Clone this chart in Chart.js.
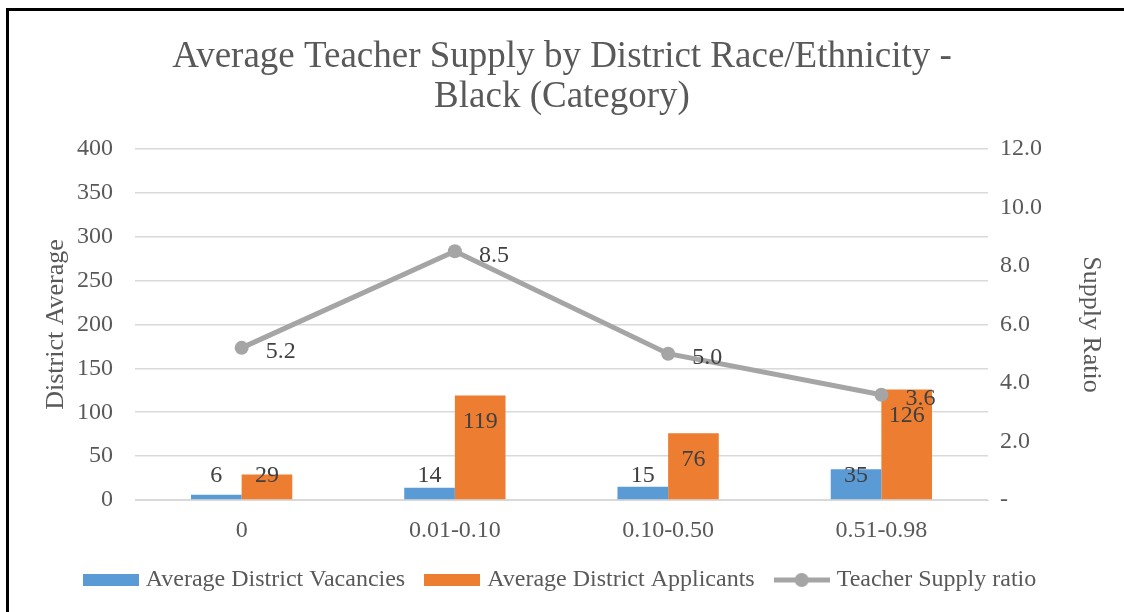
<!DOCTYPE html>
<html>
<head>
<meta charset="utf-8">
<title>Average Teacher Supply by District Race/Ethnicity - Black (Category)</title>
<script src="https://cdn.jsdelivr.net/npm/chart.js@4.4.1/dist/chart.umd.min.js"></script>
<style>
  html, body { margin: 0; padding: 0; background: #fff; overflow: hidden; }
  #wrap { position: relative; width: 1124px; height: 612px; }
  #frame { position: absolute; left: 6px; top: 8px; width: 1200px; height: 700px;
           border-left: 3px solid #000; border-top: 3px solid #000; }
  #chart { position: absolute; left: 0; top: 0; }
</style>
</head>
<body>
<div id="wrap">
  <div id="frame"></div>
  <canvas id="chart" width="1124" height="612"></canvas>
</div>
<script>
// values
const categories = ['0', '0.01-0.10', '0.10-0.50', '0.51-0.98'];
const vacancies = [6, 14, 15, 35];
const applicants = [29, 119, 76, 126];
const supplyRatio = [5.2, 8.5, 5.0, 3.6];

const FONT = '"Liberation Serif", "Times New Roman", serif';
const TEXT = '#595959';

// little pictures for the legend (bar box / line with marker)
function swatch(color, kind){
    const c = document.createElement('canvas');
    c.width = 56;
    c.height = 16;
    const g = c.getContext('2d');
    g.fillStyle = color;
    if(kind === 'bar'){
        g.fillRect(0, 2, 56, 12);
    }else{
        g.fillRect(0, 5.5, 56, 5);
        g.beginPath();
        g.arc(28, 8, 7, 0, Math.PI * 2);
        g.fill();
    }
    return c;
}

const valueLabels = {
    id: 'valueLabels',
    afterDatasetsDraw(chart){
        const ctx = chart.ctx;
        ctx.save();
        ctx.font = '24px ' + FONT;
        ctx.fillStyle = '#404040';
        ctx.textBaseline = 'middle';
        chart.data.datasets.forEach((ds, i) => {
            const meta = chart.getDatasetMeta(i);
            meta.data.forEach((el, j) => {
                const v = ds.data[j];
                if(ds.type === 'line'){
                    ctx.textAlign = 'left';
                    ctx.fillText(v.toFixed(1), el.x + 24, el.y + 4);
                }else{
                    ctx.textAlign = 'center';
                    const y = Math.min(el.y + 26, el.base - 24);
                    ctx.fillText(String(v), el.x, y);
                }
            });
        });
        ctx.restore();
    }
};

new Chart(document.getElementById('chart'), {
    data: {
        labels: categories,
        datasets: [
            {
                type: 'bar',
                label: 'Average District Vacancies',
                data: vacancies,
                backgroundColor: '#5B9BD5',
                yAxisID: 'y',
                order: 2
            },
            {
                type: 'bar',
                label: 'Average District Applicants',
                data: applicants,
                backgroundColor: '#ED7D31',
                yAxisID: 'y',
                order: 2
            },
            {
                type: 'line',
                label: 'Teacher Supply ratio',
                data: supplyRatio,
                borderColor: '#A5A5A5',
                backgroundColor: '#A5A5A5',
                borderWidth: 5,
                pointRadius: 7,
                pointBackgroundColor: '#A5A5A5',
                pointBorderWidth: 0,
                tension: 0,
                yAxisID: 'y1',
                order: 1
            }
        ]
    },
    options: {
        responsive: false,
        animation: false,
        devicePixelRatio: 1,
        layout: { padding: { left: 0, right: 0, top: 0, bottom: 10 } },
        datasets: {
            bar: { barPercentage: 1.0, categoryPercentage: 0.475 }
        },
        plugins: {
            title: {
                display: true,
                text: ['Average Teacher Supply by District Race/Ethnicity -', 'Black (Category)'],
                color: TEXT,
                font: { family: FONT, size: 37, weight: 'normal', lineHeight: 1.08 },
                padding: { top: 37, bottom: 32 }
            },
            legend: {
                position: 'bottom',
                labels: {
                    usePointStyle: true,
                    pointStyleWidth: 46,
                    color: TEXT,
                    padding: 24,
                    font: { family: FONT, size: 24 },
                    generateLabels(chart){
                        return chart.data.datasets.map((ds, i) => ({
                            text: ds.label,
                            pointStyle: swatch(ds.backgroundColor, ds.type),
                            fillStyle: ds.backgroundColor,
                            strokeStyle: ds.backgroundColor,
                            lineWidth: 0,
                            fontColor: TEXT,
                            hidden: false,
                            datasetIndex: i
                        }));
                    }
                }
            },
            tooltip: { enabled: false }
        },
        scales: {
            x: {
                grid: { display: false, drawTicks: false },
                border: { display: true, color: '#D9D9D9', width: 1 },
                ticks: { color: TEXT, padding: 16, font: { family: FONT, size: 24 } },
                afterFit(scale){ scale.height = 44; }
            },
            y: {
                position: 'left',
                min: 0,
                max: 400,
                ticks: { stepSize: 50, color: TEXT, padding: 22, font: { family: FONT, size: 24 } },
                grid: { color: '#D9D9D9', lineWidth: 1.5, drawTicks: false },
                border: { display: false },
                title: {
                    display: true,
                    text: 'District Average',
                    color: TEXT,
                    font: { family: FONT, size: 26 },
                    padding: { top: 41, bottom: 0 }
                },
                afterFit(scale){ scale.width = 135; }
            },
            y1: {
                position: 'right',
                min: 0,
                max: 12,
                ticks: {
                    stepSize: 2,
                    color: TEXT,
                    padding: 12,
                    font: { family: FONT, size: 24 },
                    callback: v => v === 0 ? '-' : v.toFixed(1)
                },
                grid: { display: false, drawTicks: false },
                border: { display: false },
                title: {
                    display: true,
                    text: 'Supply Ratio',
                    color: TEXT,
                    font: { family: FONT, size: 26 },
                    padding: { top: 18, bottom: 0 }
                },
                afterFit(scale){ scale.width = 136; }
            }
        }
    },
    plugins: [valueLabels]
});
</script>
</body>
</html>
